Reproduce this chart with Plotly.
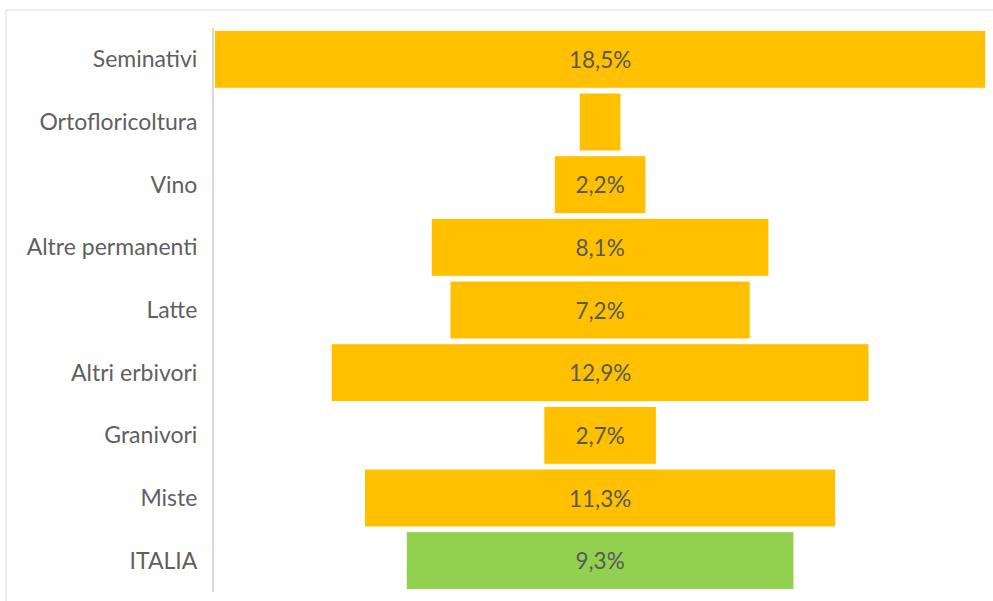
import plotly.graph_objects as go

categories = ["Seminativi", "Ortofloricoltura", "Vino", "Altre permanenti", "Latte",
              "Altri erbivori", "Granivori", "Miste", "ITALIA"]
values = [18.5, 1.0, 2.2, 8.1, 7.2, 12.9, 2.7, 11.3, 9.3]
show_label = [True, False, True, True, True, True, True, True, True]
bar_colors = ["#FFC000"] * 8 + ["#92D050"]

W, H = 993, 601
L, R, T, B = 214, 6, 28, 9
pw, ph = W - L - R, H - T - B

fig = go.Figure(go.Funnel(
    y=categories,
    x=values,
    texttemplate=["%{x:.1f}%" if s else "" for s in show_label],
    textposition="inside",
    insidetextanchor="middle",
    textfont=dict(family="Lato, Open Sans, sans-serif", size=22.5, color="#595959"),
    marker=dict(color=bar_colors, line=dict(color="#FFFFFF", width=1)),
    connector=dict(visible=False),
    hoverinfo="skip",
))

half = max(values) / 2
fig.update_layout(
    width=W, height=H,
    margin=dict(l=L, r=R, t=T, b=B, autoexpand=False),
    paper_bgcolor="white", plot_bgcolor="white",
    separators=",.",
    funnelgap=0.075,
    showlegend=False,
    font=dict(family="Lato, Open Sans, sans-serif", size=23, color="#595959"),
    xaxis=dict(visible=False, range=[-half - 0.01, half + 0.03], fixedrange=True),
    yaxis=dict(showline=True, linecolor="#D9D9D9", linewidth=2, showgrid=False,
               ticks="", ticklabelstandoff=10, automargin=False,
               tickfont=dict(size=23, color="#5F5F5F"),
               autorange="reversed", fixedrange=True),
    shapes=[dict(type="rect", xref="paper", yref="paper",
                 x0=(6 - L) / pw, x1=1 + 20 / pw,
                 y0=-30 / ph, y1=1 + (T - 10) / ph,
                 line=dict(color="#D9D9D9", width=1), fillcolor="rgba(0,0,0,0)", layer="below")],
)

fig.write_html("out.html", config={"displayModeBar": False},
               post_script="document.body.style.margin='0px';document.body.style.overflow='hidden';")
